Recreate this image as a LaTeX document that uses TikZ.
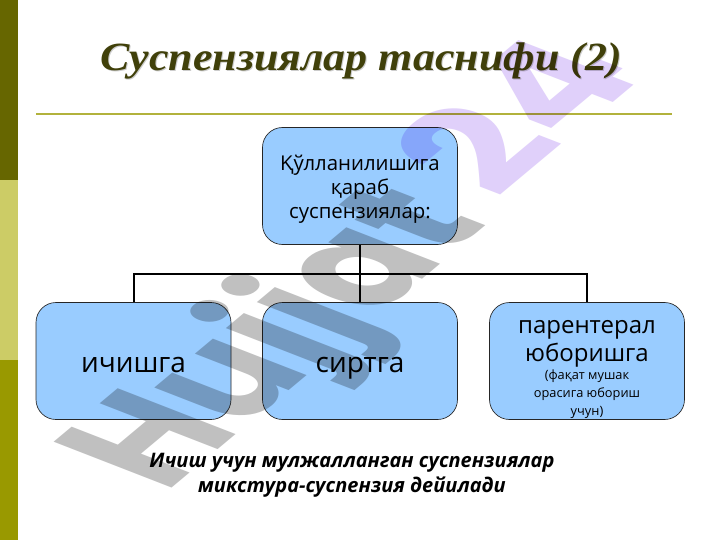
\documentclass[tikz,border=0pt]{standalone}
\usepackage{fontspec}
\setmainfont{Open Sans}
\newfontfamily\titlefont{Liberation Serif}
\newfontfamily\wmfont{Poppins}
\definecolor{barA}{RGB}{102,102,0}
\definecolor{barB}{RGB}{204,204,102}
\definecolor{barC}{RGB}{153,153,0}
\definecolor{boxblue}{RGB}{153,204,255}
\definecolor{titlecol}{RGB}{64,64,10}
\definecolor{rulecol}{RGB}{178,178,60}
\definecolor{wmgray}{RGB}{192,192,192}
\definecolor{wmviolet}{RGB}{224,208,250}
\tikzset{
  px/.style={x=0.75pt,y=-0.75pt},
  boxnode/.style={draw=black!85,line width=0.5pt,fill=boxblue,rounded corners=15pt,minimum width=146.25pt,minimum height=87.75pt,align=center,inner sep=0pt,text=black},
  link/.style={draw=black,line width=1.5pt},
  big/.style={font=\fontsize{21}{25}\selectfont},
  mid/.style={font=\fontsize{15.3}{18}\selectfont},
  wm/.style={font=\wmfont\bfseries\fontsize{100}{100}\selectfont,inner sep=0pt,anchor=base west,transform shape},
  titletext/.style={font=\titlefont\bfseries\itshape\fontsize{30}{34}\selectfont,xscale=1.1,transform shape}
}
\newcommand{\smalltxt}{\fontsize{9.6}{13}\selectfont}
\begin{document}
\begin{tikzpicture}[px]
\useasboundingbox (0,0) rectangle (720,540);
\fill[white] (0,0) rectangle (720,540);
\fill[barA] (0,0) rectangle (18,180);
\fill[barB] (0,180) rectangle (18,360);
\fill[barC] (0,360) rectangle (18,540);
\node[titletext,text=black!20] (titleshadow) at (362,62) {Суспензиялар таснифи (2)};
\node[titletext,text=titlecol] (title) at (361,61) {Суспензиялар таснифи (2)};
\coordinate (ruleL) at (36,114);
\coordinate (ruleR) at (672,114);
\draw[rulecol,line width=1.5pt] (ruleL) -- (ruleR);
\node[boxnode,mid] (top) at (360,186) {\rule{0pt}{16.5pt}Қўлланилишига\\қараб\\суспензиялар:};
\node[boxnode,big] (a) at (133.5,361) {\raisebox{-8.5pt}[0pt][0pt]{ичишга}};
\node[boxnode,big] (b) at (360,361) {\raisebox{-8.5pt}[0pt][0pt]{сиртга}};
\node[boxnode] (c) at (587,361) {};
\node[align=center,inner sep=0pt,font=\fontsize{18}{21}\selectfont] (clabel) at (587,369) {парентерал\\юборишга\\[-7.5pt]{\smalltxt (фақат мушак}\\[-7.5pt]{\smalltxt орасига юбориш}\\[-7.5pt]{\smalltxt учун)}};
\coordinate (bus) at (360,274);
\draw[link] (top.south) -- (b.north);
\draw[link] (a.north) |- (bus) -| (c.north);
\node[font=\bfseries\itshape\fontsize{15}{18.75}\selectfont,align=center] (note) at (352,475.5) {Ичиш учун мулжалланган суспензиялар\\микстура-суспензия дейилади};
\begin{scope}[blend mode=multiply]
\begin{scope}[shift={(165,494)}]
\begin{scope}[cm={0.79,0.66,-1.26,0.49,(0,0)}]
\node[wm,text=wmgray] (w1) at (0,0) {Hujjat};
\end{scope}
\end{scope}
\begin{scope}[shift={(497,200)}]
\begin{scope}[cm={0.91,0.76,-1.2,0.465,(0,0)}]
\node[wm,text=wmviolet] (w2) at (0,0) {24};
\end{scope}
\end{scope}
\end{scope}
\end{tikzpicture}
\end{document}
